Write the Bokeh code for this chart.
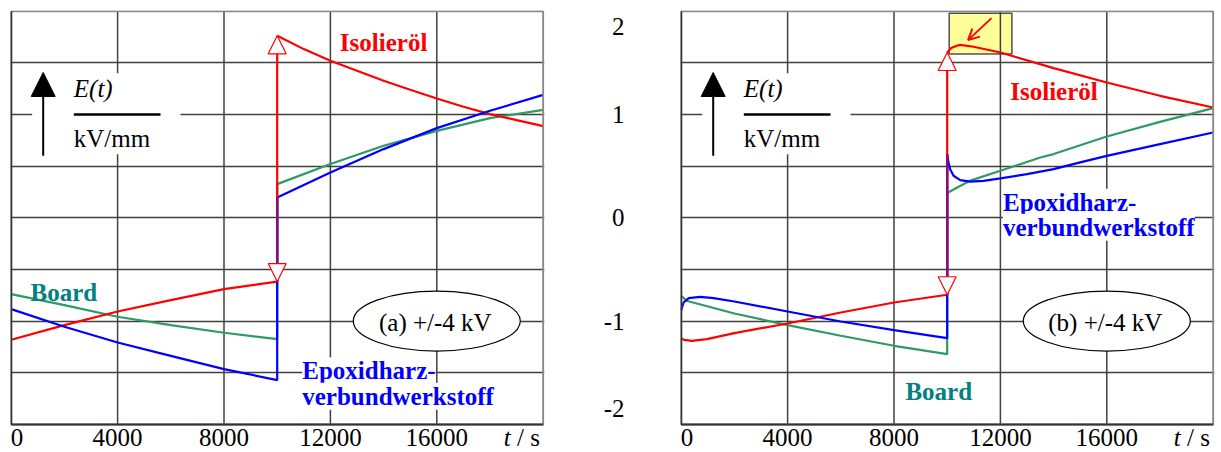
from bokeh.plotting import figure
from bokeh.layouts import row
from bokeh.models import Range1d, FixedTicker, Label, Arrow, NormalHead, OpenHead
from bokeh.core.properties import value
from bokeh.embed import file_html
from bokeh.resources import INLINE

# ---------------- data (kV/mm over t in s) ----------------
# panel (a)
t_pre_a = [0, 2000, 4000, 6000, 8000, 10000]
oil_pre_a = [-1.181, -1.039, -0.907, -0.797, -0.69, -0.617]
board_pre_a = [-0.739, -0.845, -0.958, -1.039, -1.113, -1.175]
epoxy_pre_a = [-0.884, -1.055, -1.207, -1.336, -1.465, -1.571]
t_post_a = [10000, 11000, 12000, 13000, 14000, 15000, 16000, 17000, 18000, 19000, 20000]
oil_post_a = [1.762, 1.633, 1.52, 1.423, 1.326, 1.239, 1.155, 1.075, 1.004, 0.946, 0.888]
t_post_a2 = [10000, 12000, 14000, 16000, 18000, 20000]
board_post_a = [0.326, 0.52, 0.697, 0.842, 0.965, 1.045]
epoxy_post_a = [0.197, 0.439, 0.665, 0.868, 1.036, 1.19]

# panel (b)
t_oil_pre_b = [0, 100, 400, 966, 2000, 4000, 6000, 8000, 10000]
oil_pre_b = [-1.165, -1.182, -1.191, -1.174, -1.116, -1.023, -0.917, -0.82, -0.745]
t_epoxy_pre_b = [0, 90, 280, 720, 1220, 2000, 4000, 6000, 8000, 10000]
epoxy_pre_b = [-0.894, -0.82, -0.777, -0.765, -0.777, -0.81, -0.907, -1.004, -1.087, -1.165]
t_board_pre_b = [0, 200, 2000, 4000, 6000, 8000, 10000]
board_pre_b = [-0.755, -0.803, -0.926, -1.039, -1.142, -1.239, -1.32]
t_oil_post_b = [10000, 10150, 10360, 10490, 10990, 12000, 14000, 16000, 18000, 20000]
oil_post_b = [1.60, 1.643, 1.665, 1.674, 1.656, 1.60, 1.449, 1.31, 1.181, 1.068]
t_epoxy_post_b = [10000, 10050, 10110, 10240, 10490, 10870, 11370, 12000, 13000, 14000, 15000,
                  16000, 18000, 20000]
epoxy_post_b = [0.617, 0.535, 0.471, 0.407, 0.365, 0.351, 0.358, 0.381, 0.423, 0.471, 0.536,
                0.60, 0.713, 0.826]
t_board_post_b = [10000, 10360, 10870, 12000, 13500, 14000, 16000, 18000, 20000]
board_post_b = [0.24, 0.29, 0.36, 0.455, 0.584, 0.617, 0.787, 0.929, 1.062]

x_tick_pos = [220, 4000, 8000, 12000, 16000, 19450]
x_tick_text = ["0", "4000", "8000", "12000", "16000", "/ s"]
x_unit_pos = 18650
x_unit_text = "t"
y_ticks = [-1.85, -1, 0, 1, 1.85]
y_tick_labels = {-1.85: "-2", -1: "-1", 0: "0", 1: "1", 1.85: "2"}
x_grid = [4000, 8000, 12000, 16000]
y_grid = [-1.5, -1, -0.5, 0, 0.5, 1, 1.5]
X_MIN, X_MAX, Y_MIN, Y_MAX = 0, 20000, -2, 2

RED = "#FF0000"
BLUE = "#0000FF"
GREEN = "#2E9A64"
TEAL = "#008080"
PURPLE = "#80107F"
GRID = "#404040"
FONT = "Liberation Serif"
FS = "25px"
T_SWITCH = 10000

# pixel geometry of the plotting frames
FRAME_W = 534
FRAME_H = 442
X_PPU = 532 / 20000.0     # pixels per second
Y_PPU = 103.3             # pixels per kV/mm
X_START = -0.7 / X_PPU
Y_TOP = 2 + 0.7 / Y_PPU
Y_BOT = Y_TOP - FRAME_H / Y_PPU
DY = 8.5 / Y_PPU          # baseline correction for text placement
LABEL_Y = -2 - 21.7 / Y_PPU + DY


def base_fig(width, border_left, border_right, show_y_labels):
    p = figure(width=width, height=452, output_backend="svg", toolbar_location=None,
               x_range=Range1d(X_START, X_START + FRAME_W / X_PPU),
               y_range=Range1d(Y_BOT, Y_TOP),
               min_border_left=border_left, min_border_right=border_right,
               min_border_top=10, min_border_bottom=0)
    p.background_fill_color = "white"
    p.border_fill_color = "white"
    p.outline_line_color = None
    p.xgrid.visible = False
    p.ygrid.ticker = FixedTicker(ticks=y_grid)
    p.ygrid.grid_line_color = GRID
    p.ygrid.grid_line_width = 1.5
    p.xaxis.visible = False
    ya = p.yaxis[0]
    if show_y_labels:
        ya.ticker = FixedTicker(ticks=y_ticks)
        ya.major_label_overrides = y_tick_labels
        ya.major_label_standoff = 56
        ya.axis_line_color = None
        ya.major_tick_out = 0
        ya.major_tick_in = 0
        ya.minor_tick_out = 0
        ya.minor_tick_in = 0
        ya.major_label_text_font = FONT
        ya.major_label_text_font_size = FS
        ya.major_label_text_color = "black"
    else:
        ya.visible = False
    # vertical grid lines inside the frame only
    p.segment(x0=x_grid, y0=[Y_MIN] * len(x_grid), x1=x_grid, y1=[Y_MAX] * len(x_grid),
              line_color=GRID, line_width=1.5)
    # time axis labels
    p.text(x=x_tick_pos, y=[LABEL_Y] * len(x_tick_pos), text=x_tick_text,
           text_font=value(FONT), text_font_size=value(FS), text_color="black",
           text_align="center", text_baseline="alphabetic")
    p.text(x=[x_unit_pos], y=[LABEL_Y], text=[x_unit_text],
           text_font=value(FONT), text_font_size=value(FS), text_font_style="italic",
           text_color="black", text_align="center", text_baseline="alphabetic")
    return p


def e_block(p):
    p.quad(left=[789], right=[6365], bottom=[0.615], top=[1.40],
           fill_color="white", line_color=None)
    p.segment(x0=[2354], y0=[1.0], x1=[5614], y1=[1.0], line_color="black", line_width=2.5)
    p.add_layout(Arrow(x_start=1203, y_start=0.60, x_end=1203, y_end=1.407,
                       line_color="black", line_width=2,
                       end=NormalHead(size=24, fill_color="black", line_color="black", line_width=1)))
    p.add_layout(Label(x=2354, y=1.165 + DY, text="E(t)", text_font=FONT, text_font_size=FS,
                       text_font_style="italic", text_color="black", text_baseline="alphabetic"))
    p.add_layout(Label(x=2354, y=0.681 + DY, text="kV/mm", text_font=FONT, text_font_size=FS,
                       text_color="black", text_baseline="alphabetic"))


def frame(p):
    p.quad(left=[X_MIN], right=[X_MAX], bottom=[Y_MIN], top=[Y_MAX],
           fill_color=None, line_color="#8a8a8a", line_width=2)
    p.segment(x0=[X_MIN, X_MIN], y0=[Y_MIN, Y_MIN], x1=[X_MIN, X_MAX], y1=[Y_MAX, Y_MIN],
              line_color="#333333", line_width=2)


def draw_series(p, t_board_pre, board_pre, t_board_post, board_post,
                t_epoxy_pre, epoxy_pre, t_epoxy_post, epoxy_post,
                t_oil_pre, oil_pre, t_oil_post, oil_post):
    lw = 2.2
    p.line(t_board_pre + t_board_post, board_pre + board_post, line_color=GREEN, line_width=lw)
    p.line(t_oil_pre, oil_pre, line_color=RED, line_width=lw)
    p.line(t_oil_post, oil_post, line_color=RED, line_width=lw)
    p.line(t_epoxy_pre + t_epoxy_post, epoxy_pre + epoxy_post, line_color=BLUE, line_width=lw)
    # red jump of the oil field
    p.segment(x0=[T_SWITCH], y0=[oil_pre[-1]], x1=[T_SWITCH], y1=[oil_post[0]],
              line_color=RED, line_width=lw)
    # overlap of red and blue jumps
    p.segment(x0=[T_SWITCH], y0=[oil_pre[-1]], x1=[T_SWITCH], y1=[epoxy_post[0]],
              line_color=PURPLE, line_width=lw)
    p.add_layout(Arrow(x_start=T_SWITCH, y_start=oil_pre[-1], x_end=T_SWITCH, y_end=oil_post[0],
                       line_alpha=0,
                       start=NormalHead(size=18, fill_color="white", line_color=RED, line_width=1.2),
                       end=NormalHead(size=18, fill_color="white", line_color=RED, line_width=1.2)))


def text(p, x, y, s, color, bg=False):
    kw = dict(x=x, y=y + DY, text=s, text_font=FONT, text_font_size=FS,
              text_font_style="bold", text_color=color, text_baseline="alphabetic")
    if bg:
        kw["background_fill_color"] = "white"
    p.add_layout(Label(**kw))


def ellipse_label(p, s):
    p.ellipse(x=[16000], y=[-1.0], width=[6280], height=[0.58],
              fill_color="white", line_color="black", line_width=1.2)
    p.add_layout(Label(x=15945, y=-1.094 + DY, text=s, text_font=FONT, text_font_size=FS,
                       text_color="black", text_align="center", text_baseline="alphabetic"))


# ---------------- panel (a) ----------------
pa = base_fig(590, 10, 46, False)
e_block(pa)
ellipse_label(pa, "(a) +/-4 kV")
draw_series(pa, t_pre_a, board_pre_a, t_post_a2, board_post_a,
            t_pre_a, epoxy_pre_a, t_post_a2, epoxy_post_a,
            t_pre_a, oil_pre_a, t_post_a, oil_post_a)
frame(pa)
text(pa, 12355, 1.617, "Isolieröl", RED)
text(pa, 726, -0.803, "Board", TEAL)
text(pa, 10942, -1.562, "Epoxidharz-", BLUE, bg=True)
text(pa, 10942, -1.81, "verbundwerkstoff", BLUE, bg=True)

# ---------------- panel (b) ----------------
pb = base_fig(631, 90, 7, True)
box = pb.quad(left=[10075], right=[12432], bottom=[1.585], top=[1.98],
              fill_color="#FFFF99", line_color="#505050", line_width=1.5)
box.level = "image"
e_block(pb)
ellipse_label(pb, "(b) +/-4 kV")
draw_series(pb, t_board_pre_b, board_pre_b, t_board_post_b, board_post_b,
            t_epoxy_pre_b, epoxy_pre_b, t_epoxy_post_b, epoxy_post_b,
            t_oil_pre_b, oil_pre_b, t_oil_post_b, oil_post_b)
frame(pb)
pb.add_layout(Arrow(x_start=11665, y_start=1.933, x_end=10785, y_end=1.72,
                    line_color=RED, line_width=2,
                    end=OpenHead(size=11, line_color=RED, line_width=2)))
text(pb, 12370, 1.139, "Isolieröl", RED)
text(pb, 12096, 0.068, "Epoxidharz-", BLUE, bg=True)
text(pb, 12096, -0.174, "verbundwerkstoff", BLUE, bg=True)
text(pb, 8429, -1.762, "Board", TEAL)

layout = row(pa, pb)
open("out.html", "w").write(file_html(layout, INLINE))
